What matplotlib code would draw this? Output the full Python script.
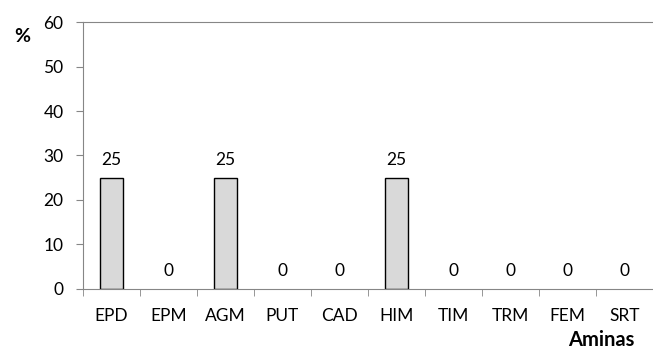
import matplotlib
matplotlib.use("Agg")
from matplotlib import pyplot as plt
import numpy as np

aminas = ["EPD", "EPM", "AGM", "PUT", "CAD", "HIM", "TIM", "TRM", "FEM", "SRT"]
valores = [25, 0, 25, 0, 0, 25, 0, 0, 0, 0]
yticks = [0, 10, 20, 30, 40, 50, 60]

plt.rcParams['font.family'] = ['Lato', 'DejaVu Sans']
gris = "#868686"
fs = 12.5

fig = plt.figure(figsize=(6.53, 3.51), dpi=100)
ax = fig.add_axes([0.127, 0.177, 0.873, 0.76])

x = np.arange(len(aminas))
anchos = [1 if v > 0 else 0 for v in valores]
ax.bar(x, valores, 0.41, color="#d9d9d9", edgecolor="black", linewidth=anchos)
for xi, v in zip(x, valores):
    ax.text(xi, v + 2.2, str(v), ha="center", va="bottom", fontsize=fs)

ax.set_xlim(-0.5, len(aminas) - 0.5)
ax.set_ylim(0, 60)
ax.set_yticks(yticks)
ax.set_xticks(x)
ax.set_xticklabels(aminas)
ax.set_xticks(np.arange(len(aminas) + 1) - 0.5, minor=True)
ax.tick_params(axis="x", which="major", length=0, pad=14, labelsize=fs)
ax.tick_params(axis="x", which="minor", length=5, color=gris, direction="out")
ax.tick_params(axis="y", length=5, color=gris, direction="out", pad=9, labelsize=fs)

for s in ["left", "bottom", "top"]:
    ax.spines[s].set_color(gris)
ax.spines["right"].set_visible(False)

fig.text(22 / 653, 1 - 37 / 351, "%", ha="center", va="center", fontsize=14, fontweight="bold")
fig.text(601 / 653, 1 - 340 / 351, "Aminas", ha="center", va="center", fontsize=14.5, fontweight="bold")

fig.savefig("out.png", dpi=100)
